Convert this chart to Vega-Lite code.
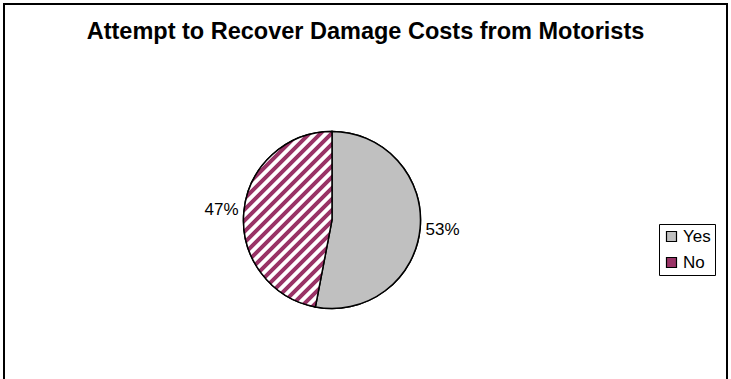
{
  "$schema": "https://vega.github.io/schema/vega-lite/v6.json",
  "width": 723,
  "height": 432,
  "autosize": {"type": "none"},
  "padding": {"left": 4, "top": 4, "right": 4, "bottom": 0},
  "background": "white",
  "title": {
    "text": "Attempt to Recover Damage Costs from Motorists",
    "font": "Liberation Sans",
    "fontSize": 23.5,
    "fontWeight": "bold",
    "color": "black",
    "anchor": "middle",
    "offset": -38,
    "dy": 21,
    "baseline": "alphabetic"
  },
  "data": {
    "values": [
      {"answer": "Yes", "value": 53, "label": "53%"},
      {"answer": "No", "value": 47, "label": "47%"}
    ]
  },
  "layer": [
    {
      "data": {"values": [{"frame": "border"}]},
      "mark": {"type": "rect", "fill": null, "stroke": "black", "strokeWidth": 2},
      "encoding": {
        "x": {"value": 0},
        "x2": {"value": "width"},
        "y": {"value": 0},
        "y2": {"value": "height"}
      }
    },
    {
      "mark": {"type": "arc", "radius": 88.5, "stroke": "black", "strokeWidth": 1.5, "x": {"expr": "width/2-33.5"}},
      "encoding": {
        "theta": {"field": "value", "type": "quantitative", "stack": true},
        "order": {"field": "value", "sort": "descending"},
        "color": {
          "field": "answer",
          "type": "nominal",
          "scale": {"domain": ["Yes", "No"], "range": ["#C0C0C0", "#993366"]},
          "legend": {
            "title": null,
            "orient": "none",
            "legendX": 655,
            "legendY": 220,
            "symbolType": "square",
            "symbolSize": 100,
            "symbolStrokeColor": "black",
            "symbolStrokeWidth": 1.2,
            "labelFont": "Liberation Sans",
            "labelFontSize": 17,
            "labelColor": "black",
            "strokeColor": "black",
            "fillColor": "white",
            "padding": 4,
            "rowPadding": 8,
            "labelOffset": 3,
            "encode": {
              "symbols": {
                "update": {
                  "stroke": {"value": "black"},
                  "strokeWidth": {"value": 1.2}
                }
              }
            }
          }
        }
      }
    },
    {
      "mark": {"type": "arc", "radius": 88.5, "stroke": "black", "strokeWidth": 1.5, "x": {"expr": "width/2-33.5"}},
      "encoding": {
        "theta": {"field": "value", "type": "quantitative", "stack": true},
        "order": {"field": "value", "sort": "descending"},
        "fill": {
          "condition": {
            "test": "datum.answer === 'No'",
            "value": {
              "gradient": "linear",
              "x1": 0, "y1": 0, "x2": 0.605, "y2": 1.199,
              "stops": [
                {"offset": 0, "color": "#993366"}, {"offset": 0.0158, "color": "#993366"}, {"offset": 0.0208, "color": "#ffffff"}, {"offset": 0.0367, "color": "#ffffff"},
                {"offset": 0.0417, "color": "#993366"}, {"offset": 0.0575, "color": "#993366"}, {"offset": 0.0625, "color": "#ffffff"}, {"offset": 0.0783, "color": "#ffffff"},
                {"offset": 0.0833, "color": "#993366"}, {"offset": 0.0992, "color": "#993366"}, {"offset": 0.1042, "color": "#ffffff"}, {"offset": 0.12, "color": "#ffffff"},
                {"offset": 0.125, "color": "#993366"}, {"offset": 0.1408, "color": "#993366"}, {"offset": 0.1458, "color": "#ffffff"}, {"offset": 0.1617, "color": "#ffffff"},
                {"offset": 0.1667, "color": "#993366"}, {"offset": 0.1825, "color": "#993366"}, {"offset": 0.1875, "color": "#ffffff"}, {"offset": 0.2033, "color": "#ffffff"},
                {"offset": 0.2083, "color": "#993366"}, {"offset": 0.2242, "color": "#993366"}, {"offset": 0.2292, "color": "#ffffff"}, {"offset": 0.245, "color": "#ffffff"},
                {"offset": 0.25, "color": "#993366"}, {"offset": 0.2658, "color": "#993366"}, {"offset": 0.2708, "color": "#ffffff"}, {"offset": 0.2867, "color": "#ffffff"},
                {"offset": 0.2917, "color": "#993366"}, {"offset": 0.3075, "color": "#993366"}, {"offset": 0.3125, "color": "#ffffff"}, {"offset": 0.3283, "color": "#ffffff"},
                {"offset": 0.3333, "color": "#993366"}, {"offset": 0.3492, "color": "#993366"}, {"offset": 0.3542, "color": "#ffffff"}, {"offset": 0.37, "color": "#ffffff"},
                {"offset": 0.375, "color": "#993366"}, {"offset": 0.3908, "color": "#993366"}, {"offset": 0.3958, "color": "#ffffff"}, {"offset": 0.4117, "color": "#ffffff"},
                {"offset": 0.4167, "color": "#993366"}, {"offset": 0.4325, "color": "#993366"}, {"offset": 0.4375, "color": "#ffffff"}, {"offset": 0.4533, "color": "#ffffff"},
                {"offset": 0.4583, "color": "#993366"}, {"offset": 0.4742, "color": "#993366"}, {"offset": 0.4792, "color": "#ffffff"}, {"offset": 0.495, "color": "#ffffff"},
                {"offset": 0.5, "color": "#993366"}, {"offset": 0.5158, "color": "#993366"}, {"offset": 0.5208, "color": "#ffffff"}, {"offset": 0.5367, "color": "#ffffff"},
                {"offset": 0.5417, "color": "#993366"}, {"offset": 0.5575, "color": "#993366"}, {"offset": 0.5625, "color": "#ffffff"}, {"offset": 0.5783, "color": "#ffffff"},
                {"offset": 0.5833, "color": "#993366"}, {"offset": 0.5992, "color": "#993366"}, {"offset": 0.6042, "color": "#ffffff"}, {"offset": 0.62, "color": "#ffffff"},
                {"offset": 0.625, "color": "#993366"}, {"offset": 0.6408, "color": "#993366"}, {"offset": 0.6458, "color": "#ffffff"}, {"offset": 0.6617, "color": "#ffffff"},
                {"offset": 0.6667, "color": "#993366"}, {"offset": 0.6825, "color": "#993366"}, {"offset": 0.6875, "color": "#ffffff"}, {"offset": 0.7033, "color": "#ffffff"},
                {"offset": 0.7083, "color": "#993366"}, {"offset": 0.7242, "color": "#993366"}, {"offset": 0.7292, "color": "#ffffff"}, {"offset": 0.745, "color": "#ffffff"},
                {"offset": 0.75, "color": "#993366"}, {"offset": 0.7658, "color": "#993366"}, {"offset": 0.7708, "color": "#ffffff"}, {"offset": 0.7867, "color": "#ffffff"},
                {"offset": 0.7917, "color": "#993366"}, {"offset": 0.8075, "color": "#993366"}, {"offset": 0.8125, "color": "#ffffff"}, {"offset": 0.8283, "color": "#ffffff"},
                {"offset": 0.8333, "color": "#993366"}, {"offset": 0.8492, "color": "#993366"}, {"offset": 0.8542, "color": "#ffffff"}, {"offset": 0.87, "color": "#ffffff"},
                {"offset": 0.875, "color": "#993366"}, {"offset": 0.8908, "color": "#993366"}, {"offset": 0.8958, "color": "#ffffff"}, {"offset": 0.9117, "color": "#ffffff"},
                {"offset": 0.9167, "color": "#993366"}, {"offset": 0.9325, "color": "#993366"}, {"offset": 0.9375, "color": "#ffffff"}, {"offset": 0.9533, "color": "#ffffff"},
                {"offset": 0.9583, "color": "#993366"}, {"offset": 0.9742, "color": "#993366"}, {"offset": 0.9792, "color": "#ffffff"}, {"offset": 1, "color": "#ffffff"}
              ]
            }
          },
          "value": "#C0C0C0"
        }
      }
    },
    {
      "mark": {"type": "text", "radius": 111, "x": {"expr": "width/2-33.5"}, "font": "Liberation Sans", "fontSize": 17, "color": "black"},
      "encoding": {
        "theta": {"field": "value", "type": "quantitative", "stack": true},
        "order": {"field": "value", "sort": "descending"},
        "text": {"field": "label", "type": "nominal"}
      }
    }
  ]
}
